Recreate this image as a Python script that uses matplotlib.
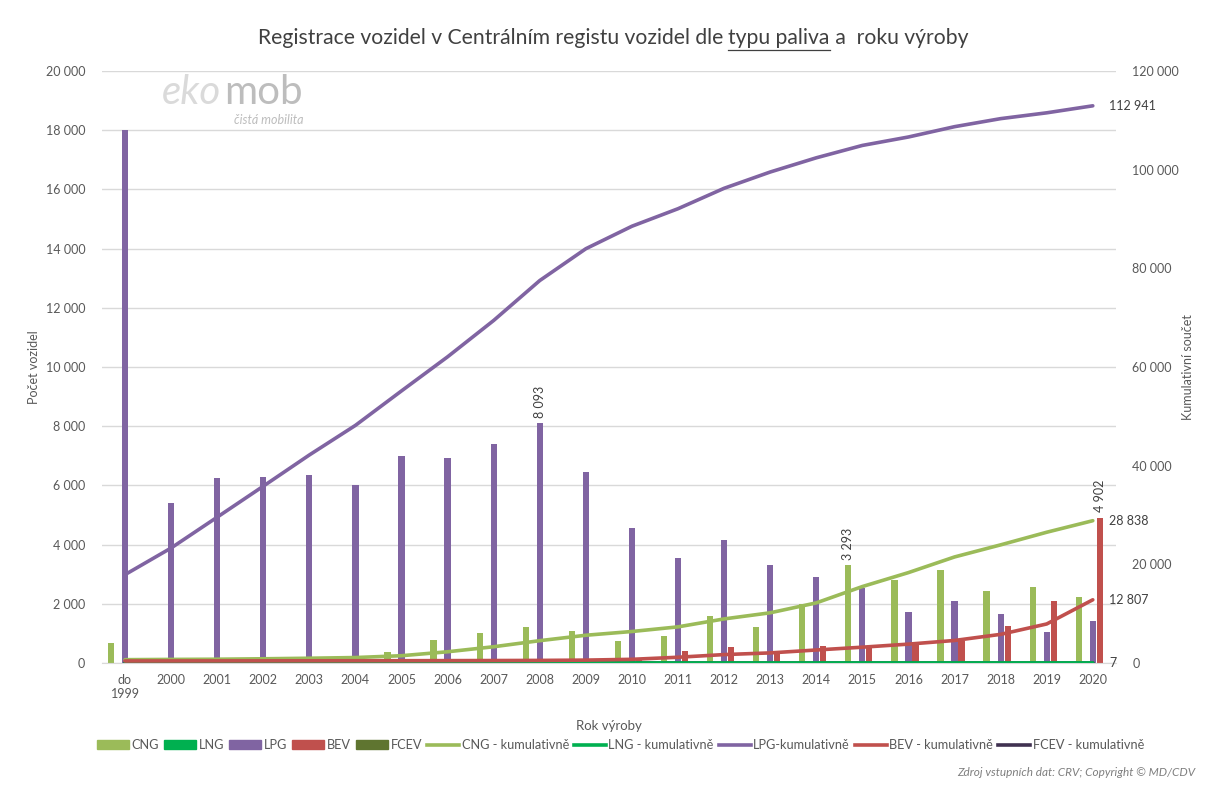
"""Registrace vozidel v CRV dle typu paliva a roku výroby."""

import matplotlib

matplotlib.use("Agg")
import matplotlib.lines as mlines
import matplotlib.patches as mpatches
import matplotlib.pyplot as plt
import numpy as np
from matplotlib.ticker import FuncFormatter, MultipleLocator

YEARS = ["do\n1999"] + [str(y) for y in range(2000, 2021)]

CNG = [667, 50, 40, 90, 110, 140, 362, 791, 1006, 1220, 1085, 746,
       927, 1593, 1220, 1989, 3293, 2814, 3153, 2430, 2554, 2226]
LNG = [0, 0, 0, 0, 0, 0, 0, 0, 0, 0, 0, 0, 0, 0, 1, 0, 1, 1, 1, 1, 1, 1]
LPG = [18000, 5413, 6260, 6294, 6340, 6012, 7006, 6927, 7390, 8093, 6464, 4565,
       3560, 4147, 3311, 2893, 2520, 1718, 2102, 1639, 1040, 1424]
BEV = [30, 5, 5, 5, 10, 10, 10, 15, 20, 25, 60, 160,
       418, 542, 340, 588, 576, 620, 735, 1243, 2090, 4902]
FCEV = [0] * 22

CNG_CUM = [667, 720, 760, 850, 960, 1100, 1470, 2270, 3290, 4520, 5620, 6380,
           7320, 8930, 10170, 12180, 15490, 18320, 21490, 23940, 26500, 28838]
LNG_CUM = [0, 0, 0, 0, 0, 0, 0, 0, 0, 0, 0, 0, 0, 0, 1, 1, 2, 3, 4, 5, 6, 7]
LPG_CUM = [17900, 23300, 29550, 35830, 42160, 48160, 55150, 62060, 69430, 77520,
           83970, 88530, 92080, 96220, 99520, 102400, 104910, 106620, 108710,
           110340, 111520, 112941]
BEV_CUM = [400, 410, 420, 430, 440, 450, 460, 475, 495, 520, 580, 740,
           1160, 1700, 2040, 2630, 3200, 3820, 4560, 5800, 7905, 12807]
FCEV_CUM = [0] * 22

COLORS = {
    "CNG": "#9BBB59",
    "LNG": "#00B050",
    "LPG": "#8064A2",
    "BEV": "#C0504D",
    "FCEV": "#5F7530",
    "FCEV_CUM": "#403151",
}
TEXT = "#595959"

plt.rcParams["font.family"] = ["Lato", "DejaVu Sans"]


def fmt(v, _pos=None):
    return f"{int(round(v)):,}".replace(",", " ")


fig = plt.figure(figsize=(12.05, 7.87), dpi=100)
ax = fig.add_axes([0.0846, 0.1576, 0.8414, 0.7522])
ax2 = ax.twinx()

x = np.arange(len(YEARS))
slot = 0.152
width = 0.135
bars = [("CNG", CNG), ("LNG", LNG), ("LPG", LPG), ("BEV", BEV), ("FCEV", FCEV)]
for i, (name, vals) in enumerate(bars):
    ax.bar(x + (i - 2) * slot, vals, width=width, color=COLORS[name], zorder=2)

cums = [
    ("CNG", CNG_CUM, COLORS["CNG"]),
    ("LNG", LNG_CUM, COLORS["LNG"]),
    ("LPG", LPG_CUM, COLORS["LPG"]),
    ("BEV", BEV_CUM, COLORS["BEV"]),
    ("FCEV", FCEV_CUM, COLORS["FCEV_CUM"]),
]
# FCEV first so that it stays underneath the others
for name, vals, col in [cums[-1]] + cums[:-1]:
    ax2.plot(x, vals, color=col, lw=2.6, solid_capstyle="round", zorder=3)

ax.set_xlim(-0.5, len(YEARS) - 0.5)
ax.set_ylim(0, 20000)
ax2.set_ylim(0, 120000)
ax.yaxis.set_major_locator(MultipleLocator(2000))
ax2.yaxis.set_major_locator(MultipleLocator(20000))
ax.yaxis.set_major_formatter(FuncFormatter(fmt))
ax2.yaxis.set_major_formatter(FuncFormatter(fmt))
ax.set_xticks(x)
ax.set_xticklabels(YEARS)
for a in (ax, ax2):
    a.tick_params(length=0, labelsize=9, colors=TEXT)
    for s in a.spines.values():
        s.set_visible(False)
ax.tick_params(axis="y", pad=12)
ax2.tick_params(axis="y", pad=12)
ax.tick_params(axis="x", pad=8)
ax.spines["bottom"].set_visible(True)
ax.spines["bottom"].set_color("#D9D9D9")
ax.grid(axis="y", color="#D9D9D9", lw=1, zorder=0)
ax.set_axisbelow(True)

ax.set_ylabel("Počet vozidel", fontsize=9, color=TEXT, labelpad=4)
ax2.set_ylabel("Kumulativní součet", fontsize=9, color=TEXT, labelpad=2)
ax.set_xlabel("Rok výroby", fontsize=9.5, color=TEXT, labelpad=14)

# data labels on bars
for idx, series, off in [(9, LPG, 0), (16, CNG, -2), (21, BEV, 1)]:
    ax.annotate(fmt(series[idx]), (x[idx] + off * slot, series[idx]),
                xytext=(0, 4), textcoords="offset points", rotation=90,
                ha="center", va="bottom", fontsize=9, color="#404040")

# end labels of cumulative lines
for vals in (LPG_CUM, CNG_CUM, BEV_CUM, LNG_CUM):
    ax2.annotate(fmt(vals[-1]), (x[-1], vals[-1]), xytext=(12, 0),
                 textcoords="offset points", ha="left", va="center",
                 fontsize=9, color="#404040")

# title with underlined part
TITLE_SIZE = 15.2
parts = ["Registrace vozidel v Centrálním registu vozidel dle ", "typu paliva", " a  roku výroby"]
fig.canvas.draw()
renderer = fig.canvas.get_renderer()
widths = []
tmp = []
for p in parts:
    t = fig.text(0, 0, p, fontsize=TITLE_SIZE, color="#404040")
    bb = t.get_window_extent(renderer)
    widths.append(bb.width)
    tmp.append(t)
for t in tmp:
    t.remove()
fw = fig.bbox.width
start = 613 - sum(widths) / 2
ty = 1 - 38 / 787
pos = start
for p, w in zip(parts, widths):
    fig.text(pos / fw, ty, p, fontsize=TITLE_SIZE, color="#404040", va="center")
    if p == "typu paliva":
        fig.add_artist(mlines.Line2D([pos / fw, (pos + w) / fw],
                                     [ty - 12 / 787, ty - 12 / 787],
                                     color="#404040", lw=0.9))
    pos += w

# logo
fig.text(162 / fw, 1 - 93 / 787, "eko", fontsize=29, color="#DADADA",
         va="center", ha="left", style="italic")
fig.text(224 / fw, 1 - 93 / 787, "mob", fontsize=29, color="#BDBDBD",
         va="center", ha="left")
fig.text(234 / fw, 1 - 120 / 787, "čistá mobilita", fontsize=9, color="#BDBDBD",
         style="italic", va="center", ha="left")

# legend
handles = [mpatches.Patch(color=COLORS[n], label=n) for n in ["CNG", "LNG", "LPG", "BEV", "FCEV"]]
line_labels = ["CNG - kumulativně", "LNG - kumulativně", "LPG-kumulativně",
               "BEV - kumulativně", "FCEV - kumulativně"]
for (name, _, col), lab in zip(cums, line_labels):
    handles.append(mlines.Line2D([], [], color=col, lw=2.6, label=lab))
fig.legend(handles=handles, loc="center", bbox_to_anchor=(0.515, 1 - 745 / 787),
           ncol=10, frameon=False, fontsize=9.2, handlelength=2.5, handleheight=0.6,
           handletextpad=0.2, columnspacing=0.4, labelcolor=TEXT)

fig.text(1195 / fw, 1 - 772 / 787, "Zdroj vstupních dat: CRV; Copyright © MD/CDV",
         fontsize=8.5, color="#7F7F7F", style="italic", ha="right", va="center")

fig.savefig("out.png", dpi=100)
